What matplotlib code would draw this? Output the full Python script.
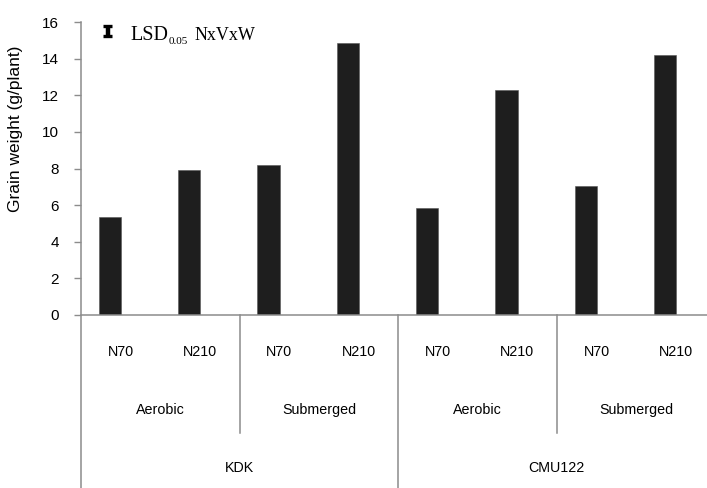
import matplotlib
matplotlib.use("Agg")
import numpy as np
import matplotlib.pyplot as plt

# grain weight per plant (g), in order KDK-Aerobic, KDK-Submerged, CMU122-Aerobic, CMU122-Submerged
values = [5.35, 7.9, 8.2, 14.85, 5.85, 12.3, 7.05, 14.2]
nitrogen = ["N70", "N210"] * 4
water = ["Aerobic", "Submerged", "Aerobic", "Submerged"]
variety = ["KDK", "CMU122"]
yticks = [0, 2, 4, 6, 8, 10, 12, 14, 16]

W, H = 707, 488
GRAY = "#8c8c8c"
BAR = "#1e1e1e"
SANS = "Liberation Sans"
SERIF = "Liberation Serif"

fig = plt.figure(figsize=(W / 100, H / 100), dpi=100)
ax = fig.add_axes([81 / W, 173 / H, 626 / W, 293 / H])

x = np.arange(len(values))
ax.bar(x + 0.365, values, width=0.28, color=BAR, edgecolor="#555555", linewidth=0.4)

ax.set_xlim(0, 626 / 79.3)
ax.set_ylim(0, 16)
ax.set_yticks(yticks)
ax.set_yticklabels([str(t) for t in yticks], fontsize=11, family=SANS)
ax.set_xticks([])
ax.tick_params(axis="y", direction="out", length=5, width=1.0, color=GRAY, pad=11)

for s in ["top", "right", "left"]:
    ax.spines[s].set_visible(False)
ax.spines["bottom"].set_color(GRAY)
ax.spines["bottom"].set_linewidth(1.1)

# axis and divider lines in the category area
ax.plot([0, 0], [16, -10], color=GRAY, lw=1.1, clip_on=False)
ax.plot([4, 4], [0, -10], color=GRAY, lw=1.1, clip_on=False)
for xd in [2, 6]:
    ax.plot([xd, xd], [0, -6.45], color=GRAY, lw=1.1, clip_on=False)

for i, lab in enumerate(nitrogen):
    ax.text(i + 0.5, -2.02, lab, ha="center", va="center", fontsize=10.3, family=SANS)
for j, lab in enumerate(water):
    ax.text(2 * j + 1, -5.19, lab, ha="center", va="center", fontsize=10.3, family=SANS)
for k, lab in enumerate(variety):
    ax.text(4 * k + 2, -8.36, lab, ha="center", va="center", fontsize=10.3, family=SANS)

ax.set_ylabel("Grain weight (g/plant)", fontsize=12.5, family=SANS)
ax.yaxis.set_label_coords(-0.092, 0.635)


def fx(px):
    return px / W


def fy(py):
    return (H - py) / H


# LSD legend symbol (error-bar style I)
fig.add_artist(plt.Line2D([fx(107.5), fx(107.5)], [fy(25), fy(36.5)], color="black",
                          lw=3.2, solid_capstyle="butt"))
for py in [26, 35.5]:
    fig.add_artist(plt.Line2D([fx(103), fx(112)], [fy(py), fy(py)], color="black",
                              lw=2.4, solid_capstyle="butt"))

renderer = fig.canvas.get_renderer()
t1 = fig.text(fx(130), fy(40), "LSD", ha="left", va="baseline", fontsize=14.5, family=SERIF)
x_end = t1.get_window_extent(renderer).x1
t2 = fig.text((x_end + 1) / W, fy(44), "0.05", ha="left", va="baseline", fontsize=8,
              family=SERIF)
x_end = t2.get_window_extent(renderer).x1
fig.text((x_end + 6) / W, fy(40), "NxVxW", ha="left", va="baseline", fontsize=13,
         family=SERIF)

fig.savefig("out.png", dpi=100)
